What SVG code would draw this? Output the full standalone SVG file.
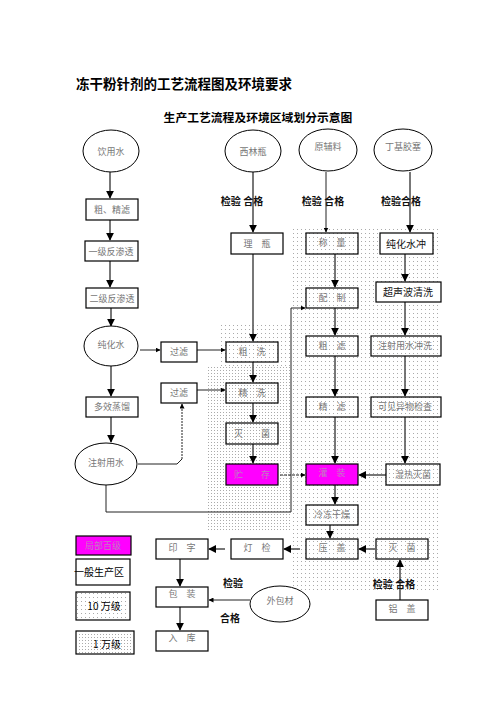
<svg xmlns="http://www.w3.org/2000/svg" width="496" height="702" viewBox="0 0 496 702">
<style>
.bx{fill:#fff;stroke:#000;stroke-width:1.2}
.bt{fill:none;stroke:#000;stroke-width:1.2}
.mg{fill:#ff00ff;stroke:#000;stroke-width:1.2}
.el{fill:#fff;stroke:#000;stroke-width:1}
.t{font-family:"Noto Sans CJK SC","Noto Sans CJK JP",sans-serif;font-size:9px;fill:#777;text-anchor:middle}
.tm{font-family:"Noto Sans CJK SC",sans-serif;font-size:9px;fill:#c080c0;text-anchor:middle}
.b{font-family:"Noto Sans CJK SC",sans-serif;font-size:10px;font-weight:bold;fill:#111;text-anchor:middle}
.c{fill:none;stroke:#555;stroke-width:1.6}
.c1{fill:none;stroke:#222;stroke-width:1}
</style>
<defs>
<pattern id="sp" width="4" height="4" patternUnits="userSpaceOnUse"><rect x="1" y="1" width="1" height="1" fill="#aaa"/></pattern>
<pattern id="dp" width="3" height="3" patternUnits="userSpaceOnUse"><rect x="1" y="1" width="1" height="1" fill="#aaa"/></pattern>
<marker id="a" viewBox="0 0 10 10" refX="9" refY="5" markerWidth="5" markerHeight="5" orient="auto"><path d="M0,0 L10,5 L0,10 z" fill="#000"/></marker>
</defs>
<rect width="496" height="702" fill="#fff"/>
<text x="76" y="89" font-family="Noto Sans CJK SC,sans-serif" font-size="13.5" font-weight="bold" fill="#000">冻干粉针剂的工艺流程图及环境要求</text>
<text x="258" y="122" font-family="Noto Sans CJK SC,sans-serif" font-size="11.8" font-weight="bold" fill="#000" text-anchor="middle">生产工艺流程及环境区域划分示意图</text>
<g id="zones">
<rect x="291" y="226" width="150" height="364" fill="url(#sp)"/>
<rect x="219" y="325" width="72" height="42" fill="url(#sp)"/>
<rect x="207" y="367" width="84" height="163" fill="url(#dp)"/>
</g>
<g id="connectors">
<path class="c" d="M110,172 V198" marker-end="url(#a)"/>
<path class="c" d="M110,220 V240" marker-end="url(#a)"/>
<path class="c" d="M110,261 V287" marker-end="url(#a)"/>
<path class="c" d="M111,308 V326" marker-end="url(#a)"/>
<path class="c" d="M111,366 V396" marker-end="url(#a)"/>
<path class="c" d="M111,417 V442" marker-end="url(#a)"/>
<path class="c1" d="M140,350 H160" marker-end="url(#a)"/>
<path class="c1" d="M197,350 H225" marker-end="url(#a)"/>
<path class="c1" d="M197,390 H225" marker-end="url(#a)"/>
<path class="c1" d="M138,464 H177 L182,459"/>
<path class="c1" d="M182,459 V404" stroke-dasharray="2,1" stroke-width="1.5" marker-end="url(#a)"/>
<path class="c1" d="M106,485 V512 H291 V308 H305" marker-end="url(#a)"/>
<path class="c" d="M253,172 V232" marker-end="url(#a)"/>
<path class="c" d="M253,254 V341" marker-end="url(#a)"/>
<path class="c" d="M253,362 V382" marker-end="url(#a)"/>
<path class="c" d="M253,403 V422" marker-end="url(#a)"/>
<path class="c" d="M253,444 V463" marker-end="url(#a)"/>
<path class="c1" d="M326,172 V232" marker-end="url(#a)"/>
<path class="c" d="M335,254 V287" marker-end="url(#a)"/>
<path class="c" d="M335,308 V335" marker-end="url(#a)"/>
<path class="c" d="M335,356 V396" marker-end="url(#a)"/>
<path class="c" d="M335,417 V463" marker-end="url(#a)"/>
<path class="c" d="M335,485 V504" marker-end="url(#a)"/>
<path class="c" d="M330,525 V538" marker-end="url(#a)"/>
<path class="c" d="M410,172 V232" marker-end="url(#a)"/>
<path class="c" d="M405,254 V281" marker-end="url(#a)"/>
<path class="c" d="M405,302 V335" marker-end="url(#a)"/>
<path class="c" d="M405,356 V396" marker-end="url(#a)"/>
<path class="c" d="M405,417 V463" marker-end="url(#a)"/>
<path class="c1" d="M280,475 H305" stroke-dasharray="3,1" marker-end="url(#a)"/>
<path class="c" d="M386,475 H359" marker-end="url(#a)"/>
<path class="c" d="M375,549 H359" marker-end="url(#a)"/>
<path class="c" d="M300,549 H284" marker-end="url(#a)"/>
<path class="c" d="M225,549 H209" marker-end="url(#a)"/>
<path class="c" d="M400,600 V560" marker-end="url(#a)"/>
<path class="c1" d="M250,600 H209" marker-end="url(#a)"/>
<path class="c" d="M180,559 V586" marker-end="url(#a)"/>
<path class="c" d="M180,607 V630" marker-end="url(#a)"/>
</g>
<g id="n-yinyongshui"><ellipse class="el" cx="111" cy="151" rx="28" ry="21"/><text class="t" x="111" y="155">饮用水</text></g>
<g id="n-xilinping"><ellipse class="el" cx="253" cy="151" rx="28" ry="21"/><text class="t" x="253" y="155">西林瓶</text></g>
<g id="n-yuanfuliao"><ellipse class="el" cx="328" cy="150" rx="29" ry="21"/><text class="t" x="328" y="150">原辅料</text></g>
<g id="n-dingjijiaosai"><ellipse class="el" cx="403" cy="150" rx="29" ry="21"/><text class="t" x="403" y="150">丁基胶塞</text></g>
<g id="labels-top">
<text class="b" x="242" y="205">检验  合格</text>
<text class="b" x="323" y="205">检验  合格</text>
<text class="b" x="401" y="205">检验合格</text>
</g>
<g id="n-cujinglv"><rect class="bx" x="86" y="199" width="52" height="21"/><text class="t" x="112" y="213">粗、精滤</text></g>
<g id="n-yiji"><rect class="bx" x="85" y="241" width="53" height="20"/><text class="t" x="111" y="255">一级反渗透</text></g>
<g id="n-erji"><rect class="bx" x="86" y="288" width="52" height="20"/><text class="t" x="112" y="302">二级反渗透</text></g>
<g id="n-chunhuashui"><ellipse class="el" cx="111" cy="346" rx="27" ry="20"/><text class="t" x="111" y="348">纯化水</text></g>
<g id="n-guolv1"><rect class="bx" x="161" y="342" width="36" height="20"/><text class="t" x="179" y="355">过滤</text></g>
<g id="n-guolv2"><rect class="bx" x="161" y="383" width="36" height="20"/><text class="t" x="179" y="396">过滤</text></g>
<g id="n-duoxiao"><rect class="bx" x="86" y="397" width="52" height="20"/><text class="t" x="112" y="410">多效蒸馏</text></g>
<g id="n-zhusheyongshui"><ellipse class="el" cx="106" cy="464" rx="31" ry="21"/><text class="t" x="106" y="466">注射用水</text></g>
<g id="n-liping"><rect class="bx" x="231" y="233" width="52" height="21"/><text class="t" x="257" y="247">理　瓶</text></g>
<g id="n-chengliang"><rect class="bt" x="306" y="233" width="52" height="21"/><text class="t" x="332" y="246">称　量</text></g>
<g id="n-chunhuashuichong"><rect class="bx" x="380" y="233" width="53" height="21"/><text class="b" x="406" y="248" style="font-weight:normal">纯化水冲</text></g>
<g id="n-peizhi"><rect class="bt" x="306" y="288" width="52" height="20"/><text class="t" x="332" y="301">配　制</text></g>
<g id="n-chaoshengbo"><rect class="bx" x="376" y="282" width="65" height="20"/><text class="b" x="408" y="296" style="font-weight:normal">超声波清洗</text></g>
<g id="n-cuxi"><rect class="bt" x="226" y="342" width="52" height="20"/><text class="t" x="252" y="355">粗　洗</text></g>
<g id="n-culv"><rect class="bt" x="306" y="336" width="52" height="20"/><text class="t" x="332" y="349">粗　滤</text></g>
<g id="n-zhushechongxi"><rect class="bt" x="371" y="336" width="70" height="20"/><text class="t" x="405" y="349">注射用水冲洗</text></g>
<g id="n-jingxi"><rect class="bt" x="226" y="383" width="52" height="20"/><text class="t" x="252" y="396">精　洗</text></g>
<g id="n-jinglv"><rect class="bt" x="306" y="397" width="52" height="20"/><text class="t" x="332" y="410">精　滤</text></g>
<g id="n-kejian"><rect class="bt" x="371" y="397" width="70" height="20"/><text class="t" x="405" y="410">可见异物检查</text></g>
<g id="n-miejun1"><rect class="bt" x="226" y="423" width="52" height="21"/><text class="t" x="252" y="437">灭　　菌</text></g>
<g id="n-zhucun"><rect class="mg" x="226" y="464" width="52" height="21"/><text class="tm" x="252" y="478">贮　　存</text></g>
<g id="n-guanzhuang"><rect class="mg" x="306" y="464" width="52" height="21"/><text class="tm" x="332" y="476">灌　装</text></g>
<g id="n-shire"><rect class="bt" x="386" y="464" width="54" height="21"/><text class="t" x="413" y="478">湿热灭菌</text></g>
<g id="n-lengdong"><rect class="bt" x="306" y="505" width="52" height="20"/><text class="t" x="332" y="518">冷冻干燥</text></g>
<g id="n-yazi"><rect class="bx" x="156" y="539" width="52" height="20"/><text class="t" x="182" y="551">印　字</text></g>
<g id="n-dengjian"><rect class="bx" x="231" y="539" width="52" height="20"/><text class="t" x="257" y="551">灯　检</text></g>
<g id="n-yagai"><rect class="bt" x="306" y="539" width="52" height="20"/><text class="t" x="332" y="551">压　盖</text></g>
<g id="n-miejun2"><rect class="bt" x="376" y="539" width="52" height="20"/><text class="t" x="402" y="551">灭　菌</text></g>
<g id="n-baozhuang"><rect class="bx" x="156" y="587" width="52" height="20"/><text class="t" x="182" y="597">包　装</text></g>
<g id="n-ruku"><rect class="bx" x="156" y="631" width="52" height="20"/><text class="t" x="182" y="641">入　库</text></g>
<g id="n-waibaocai"><ellipse class="el" cx="280" cy="604" rx="30" ry="18"/><text class="t" x="280" y="604">外包材</text></g>
<g id="n-lvgai"><rect class="bx" x="376" y="600" width="52" height="20"/><text class="t" x="402" y="612">铝　盖</text></g>
<g id="labels-bottom">
<text class="b" x="233" y="587">检验</text>
<text class="b" x="230" y="622">合格</text>
<text class="b" x="394" y="588">检验  合格</text>
</g>
<g id="legend">
<rect class="mg" x="76" y="536" width="55" height="19"/><text class="tm" x="103" y="549">局部百级</text>
<rect class="bx" x="76" y="559" width="54" height="26"/><text class="b" x="99" y="576" style="font-weight:normal;fill:#000">一般生产区</text>
<rect class="bx" x="76" y="592" width="54" height="28"/><rect x="77" y="593" width="52" height="26" fill="url(#sp)"/><text class="b" x="104" y="610" style="font-weight:normal;fill:#000">10 万级</text>
<rect class="bx" x="76" y="631" width="58" height="23"/><rect x="77" y="632" width="56" height="21" fill="url(#dp)"/><text class="b" x="107" y="648" style="font-weight:normal;fill:#000">1 万级</text>
</g>
</svg>
